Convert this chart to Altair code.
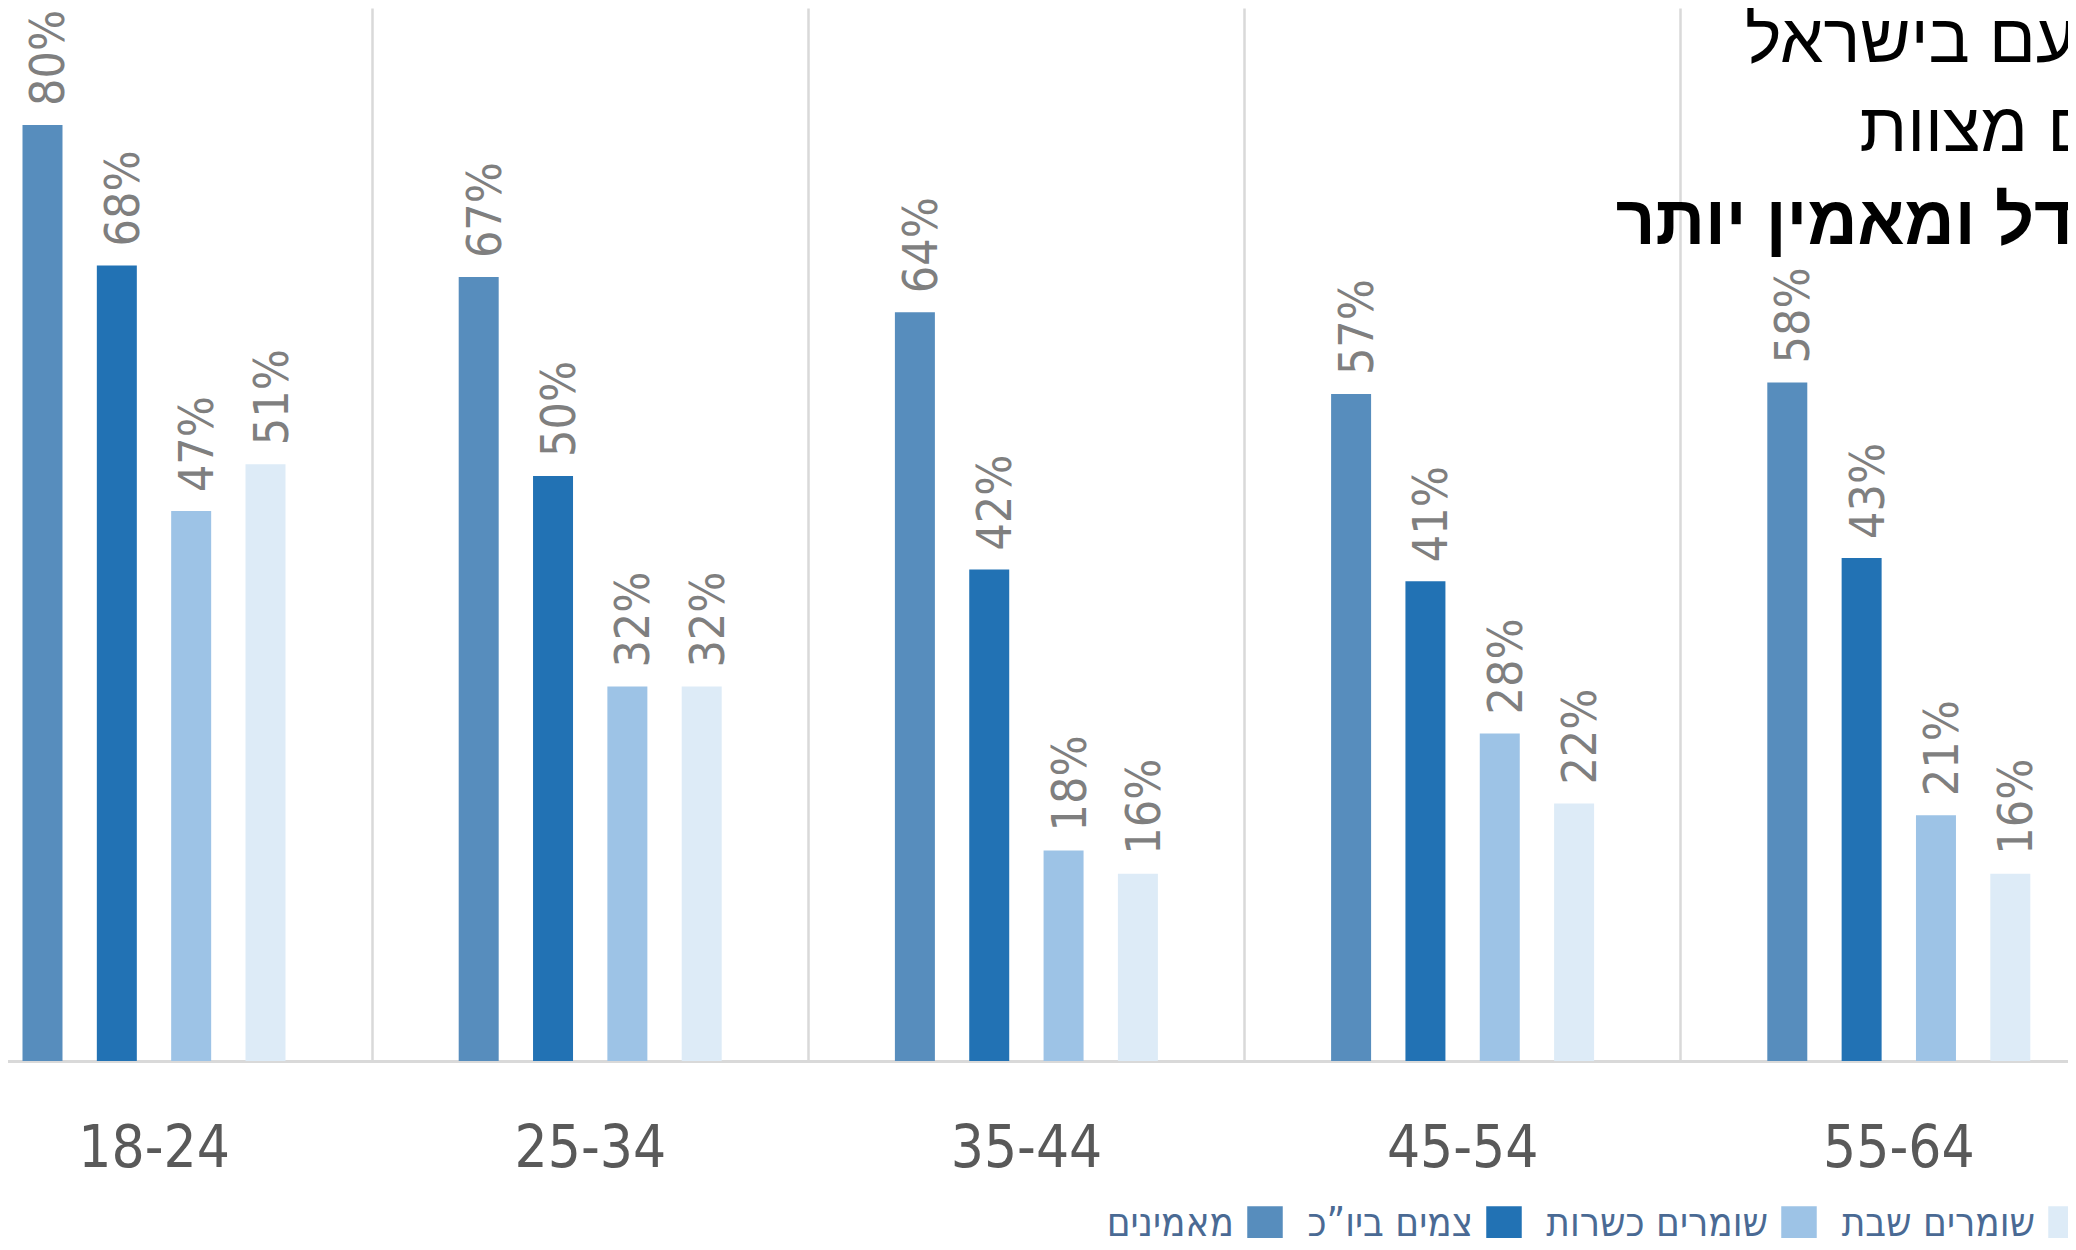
import altair as alt
import pandas as pd

ages = ["18-24", "25-34", "35-44", "45-54", "55-64"]
series = ["מאמינים", "צמים ביו”כ", "שומרים כשרות", "שומרים שבת"]
believers = [80, 67, 64, 57, 58]
fasting = [68, 50, 42, 41, 43]
kosher = [47, 32, 18, 28, 21]
shabbat = [51, 32, 16, 22, 16]
colors = ["#578DBD", "#2272B4", "#9DC3E6", "#DDEBF7"]
title_lines = ["עם בישראל", "ם מצוות", "נדל ומאמין יותר"]

rows = []
for s, vals in zip(series, [believers, fasting, kosher, shabbat]):
    for a, v in zip(ages, vals):
        rows.append({"age": a, "series": s, "value": v, "label": f"{v}%"})
df = pd.DataFrame(rows)

W = 2060
H = 1053

x_enc = alt.X(
    "age:N", sort=ages,
    scale=alt.Scale(domain=ages, range=[-72.5, 2108.5], paddingInner=0, paddingOuter=0),
    axis=alt.Axis(title=None, labelFontSize=58, labelFont="DejaVu Sans Condensed",
                  labelColor="#595959", labelPadding=59, ticks=False, labelAngle=0,
                  domainColor="#D9D9D9", domainWidth=3, grid=True, gridColor="#D9D9D9",
                  gridWidth=2.5, tickBand="extent"),
)
xo_enc = alt.XOffset(
    "series:N", sort=series,
    scale=alt.Scale(domain=series, range=[87, 350], paddingInner=0.462, paddingOuter=0),
)
y_enc = alt.Y("value:Q", scale=alt.Scale(domain=[0, 90], nice=False), axis=None)

base = alt.Chart(df)

bars = base.mark_bar().encode(
    x=x_enc, xOffset=xo_enc, y=y_enc,
    color=alt.Color(
        "series:N", sort=series,
        scale=alt.Scale(domain=series, range=colors),
        legend=alt.Legend(
            orient="none", legendX=1237, legendY=1196, direction="horizontal",
            title=None, symbolType="square", symbolSize=1260, symbolStrokeWidth=0,
            symbolOpacity=1, labelAlign="right", labelOffset={"expr": "-51"}, labelFontSize=40,
            labelFont="DejaVu Sans Condensed", labelColor="#4A6A94", labelLimit=0,
            columnPadding=24, padding=0,
        ),
    ),
)

labels = base.mark_text(
    angle=270, align="left", baseline="middle", dx=19, dy=8,
    fontSize=48, font="DejaVu Sans Condensed", color="#7F7F7F",
).encode(x=x_enc, xOffset=xo_enc, y=y_enc, text="label:N")

TFONT = "Liberation Sans"
t1 = alt.Chart(pd.DataFrame({"t": [title_lines[0]]})).mark_text(
    align="right", baseline="alphabetic", fontSize=69, font=TFONT, color="#000000"
).encode(text="t:N", x=alt.value(2068), y=alt.value(54))
t2 = alt.Chart(pd.DataFrame({"t": [title_lines[1]]})).mark_text(
    align="right", baseline="alphabetic", fontSize=69, font=TFONT, color="#000000"
).encode(text="t:N", x=alt.value(2086), y=alt.value(143))
t3 = alt.Chart(pd.DataFrame({"t": [title_lines[2]]})).mark_text(
    align="right", baseline="alphabetic", fontSize=69, font=TFONT,
    fontWeight="bold", color="#000000"
).encode(text="t:N", x=alt.value(2096), y=alt.value(236))

chart = alt.layer(bars, labels, t1, t2, t3).properties(
    width=W, height=H,
    autosize=alt.AutoSizeParams(type="none"),
    padding={"left": 0, "top": 0, "right": 0, "bottom": 177},
).configure_view(stroke=None)

chart.save("out.html", embed_options={"renderer": "svg", "actions": False})
